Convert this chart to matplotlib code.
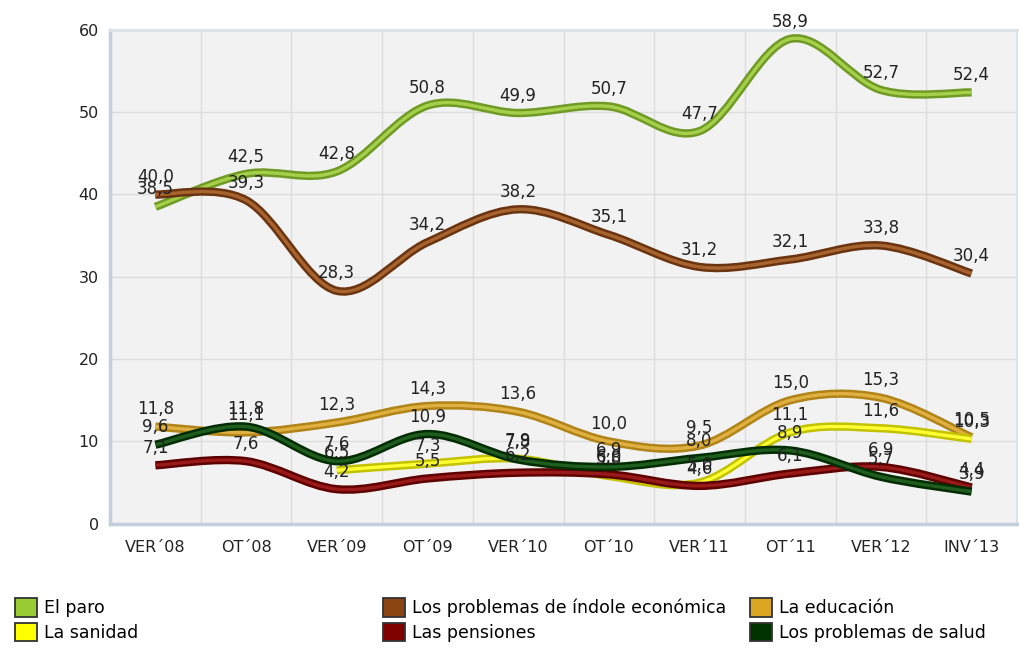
import numpy as np
import matplotlib
matplotlib.use("Agg")
import matplotlib.pyplot as plt
from matplotlib.path import Path
from matplotlib.patches import PathPatch, Patch

categories = ["VER´08", "OT´08", "VER´09", "OT´09", "VER´10",
              "OT´10", "VER´11", "OT´11", "VER´12", "INV´13"]

paro = [38.5, 42.5, 42.8, 50.8, 49.9, 50.7, 47.7, 58.9, 52.7, 52.4]
economica = [40.0, 39.3, 28.3, 34.2, 38.2, 35.1, 31.2, 32.1, 33.8, 30.4]
educacion = [11.8, 11.1, 12.3, 14.3, 13.6, 10.0, 9.5, 15.0, 15.3, 10.5]
sanidad = [None, None, 6.5, 7.3, 7.9, 5.8, 5.0, 11.1, 11.6, 10.3]
pensiones = [7.1, 7.6, 4.2, 5.5, 6.2, 6.0, 4.6, 6.1, 6.9, 4.4]
salud = [9.6, 11.8, 7.6, 10.9, 7.8, 6.9, 8.0, 8.9, 5.7, 3.9]

series = [
    ("El paro", paro, "#6f9a25", "#a6d04a", "#99cc33"),
    ("Los problemas de índole económica", economica, "#6b3410", "#a8642e", "#8b4513"),
    ("La educación", educacion, "#b08418", "#e0b040", "#daa520"),
    ("La sanidad", sanidad, "#c2c200", "#ffff33", "#ffff00"),
    ("Las pensiones", pensiones, "#5e0000", "#9a1a1a", "#800000"),
    ("Los problemas de salud", salud, "#022d02", "#1f5e1f", "#003300"),
]


def smooth_path(xs, ys):
    # bezier path through the points (excel-like smoothing)
    pts = np.column_stack([xs, ys]).astype(float)
    n = len(pts)
    verts = [pts[0]]
    codes = [Path.MOVETO]
    for i in range(n - 1):
        p0 = pts[i - 1] if i > 0 else pts[i]
        p1 = pts[i]
        p2 = pts[i + 1]
        p3 = pts[i + 2] if i + 2 < n else pts[i + 1]
        c1 = p1 + (p2 - p0) / 6.0
        c2 = p2 - (p3 - p1) / 6.0
        verts += [c1, c2, p2]
        codes += [Path.CURVE4] * 3
    return Path(verts, codes)


fig = plt.figure(figsize=(10.19, 6.49), dpi=100)
ax = fig.add_axes([0.108, 0.193, 0.89, 0.761])
ax.set_facecolor("#f2f2f2")

x = np.arange(len(categories))
for name, vals, dark, light, _ in series:
    xs = [xi for xi, v in zip(x, vals) if v is not None]
    ys = [v for v in vals if v is not None]
    path = smooth_path(xs, ys)
    ax.add_patch(PathPatch(path, fill=False, edgecolor=dark, lw=6,
                           capstyle="butt", joinstyle="round", zorder=3))
    ax.add_patch(PathPatch(path, fill=False, edgecolor=light, lw=2.4,
                           capstyle="butt", joinstyle="round", zorder=3))

for name, vals, dark, light, _ in series:
    for xi, v in zip(x, vals):
        if v is None:
            continue
        ax.annotate(f"{v:.1f}".replace(".", ","), (xi, v), xytext=(0, 6),
                    textcoords="offset points", ha="center", va="bottom",
                    fontsize=12, color="#222222", zorder=5)

ax.set_xlim(-0.5, len(categories) - 0.5)
ax.set_ylim(0, 60)
ax.set_yticks(range(0, 61, 10))
ax.set_xticks(x)
ax.set_xticklabels(categories)
ax.set_xticks(np.arange(0.5, len(categories) - 0.5, 1), minor=True)
ax.tick_params(axis="both", which="both", length=0, labelsize=11.5,
               colors="#222222")
ax.tick_params(axis="x", pad=12)
ax.tick_params(axis="y", pad=8)
ax.grid(axis="y", color="#dcdcdc", lw=1)
ax.grid(axis="x", which="minor", color="#dcdcdc", lw=1)
ax.set_axisbelow(True)

for side in ["left", "bottom"]:
    ax.spines[side].set_color("#c3cfdc")
    ax.spines[side].set_linewidth(2.5)
ax.spines["top"].set_color("#dce2e8")
ax.spines["top"].set_linewidth(2)
ax.spines["right"].set_color("#dce2e8")
ax.spines["right"].set_linewidth(1.5)

# legend: three columns placed like the original
anchors = [0.0147, 0.376, 0.736]
for col, xa in enumerate(anchors):
    handles = []
    for name, vals, dark, light, legc in (series[col], series[col + 3]):
        handles.append(Patch(facecolor=legc, edgecolor="#333333", lw=1.3, label=name))
    fig.legend(handles=handles, loc="upper left", bbox_to_anchor=(xa, 0.078),
               frameon=False, fontsize=12.5, handlelength=1.25, handleheight=1.25,
               handletextpad=0.4, labelspacing=0.32, borderaxespad=0,
               borderpad=0)

fig.savefig("out.png", dpi=100)
